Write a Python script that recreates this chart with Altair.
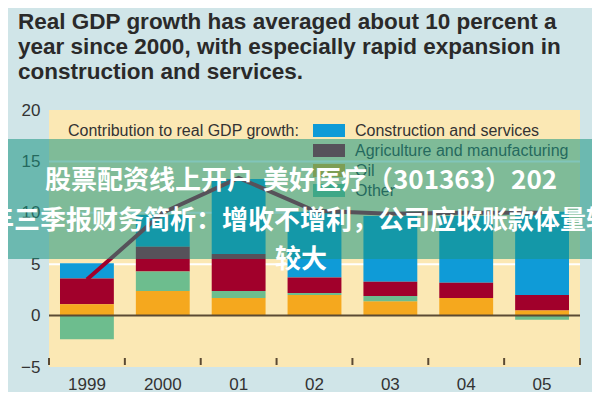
import altair as alt
import pandas as pd

# ---- data ----
years = ["1999", "2000", "01", "02", "03", "04", "05"]
series_names = ["Construction and services", "Agriculture and manufacturing", "Oil", "Other"]
series_colors = ["#0f9bd7", "#a1002b", "#f5a81e", "#6dbd8e"]
stack_rank = [3, 2, 0, 1]
construction = [1.5, 3.1, 7.3, 6.4, 6.4, 6.5, 8.1]
agri_manuf = [2.5, 2.4, 3.6, 1.5, 1.4, 1.5, 1.5]
oil = [1.1, 2.4, 1.7, 2.0, 1.4, 1.7, 0.5]
other = [-2.3, 1.9, 0.7, 0.2, 0.5, 0.0, -0.4]
gdp_growth = [3.5, 10.0, 13.4, 10.2, 9.9, 10.0, 10.0]
y_ticks = [-5, 0, 5, 10, 15, 20]
grid_values = [5, 10, 15]
title_lines = [
    "Real GDP growth has averaged about 10 percent a",
    "year since 2000, with especially rapid expansion in",
    "construction and services.",
]
legend_title = "Contribution to real GDP growth:"
banner_1a = "股票配资线上开户"
banner_1b = "美好医疗（301363）202"
banner_2 = "年三季报财务简析：增收不增利，公司应收账款体量较"
banner_3 = "较大"

series_values = [construction, agri_manuf, oil, other]
rows = []
for name, vals, rank in zip(series_names, series_values, stack_rank):
    for yr, v in zip(years, vals):
        rows.append({"year": yr, "series": name, "value": v, "rank": rank})
bars_df = pd.DataFrame(rows)
line_df = pd.DataFrame({"year": years, "growth": gdp_growth})
year_df = pd.DataFrame({"year": years})
last_df = pd.DataFrame({"year": years[-1:]})
grid_df = pd.DataFrame({"v": grid_values})
zero_df = pd.DataFrame({"v": [0]})
legend_df = pd.DataFrame({"name": series_names, "idx": list(range(len(series_names)))})
one = pd.DataFrame({"k": [0]})

FONT = "Liberation Sans"
CJK = "Noto Sans CJK SC"
BROWN = "#5b4a33"

xscale = alt.Scale(domain=years, paddingInner=0, paddingOuter=0)
yscale = alt.Scale(domain=[-5, 20], nice=False, zero=False)

grid = alt.Chart(grid_df).mark_rule(color="white", strokeWidth=2).encode(
    y=alt.Y("v:Q", scale=yscale, axis=alt.Axis(values=y_ticks, title=None, grid=False,
                                                ticks=False, domain=False, labelPadding=9,
                                                labelFontSize=17, labelColor="#333333",
                                                labelFont=FONT))
)

bars = alt.Chart(bars_df).mark_bar(width=alt.RelativeBandSize(0.71), strokeWidth=0).encode(
    x=alt.X("year:N", sort=years, scale=xscale,
            axis=alt.Axis(title=None, ticks=False, domain=False, labelAngle=0, labelPadding=9,
                          labelFontSize=17, labelColor="#333333", labelFont=FONT)),
    y=alt.Y("value:Q", stack="zero", scale=yscale),
    color=alt.Color("series:N", scale=alt.Scale(domain=series_names, range=series_colors), legend=None),
    order=alt.Order("rank:Q", sort="ascending"),
)

zero = alt.Chart(zero_df).mark_rule(color=BROWN, strokeWidth=2).encode(y=alt.Y("v:Q", scale=yscale))

ticks = alt.Chart(year_df).mark_rule(color=BROWN, strokeWidth=2).encode(
    x=alt.X("year:N", sort=years, scale=xscale, bandPosition=0),
    y=alt.value(248), y2=alt.value(255),
)
ticks_end = alt.Chart(last_df).mark_rule(color=BROWN, strokeWidth=2).encode(
    x=alt.X("year:N", sort=years, scale=xscale, bandPosition=1),
    y=alt.value(248), y2=alt.value(255),
)

line = alt.Chart(line_df).mark_line(color="#a1002b", strokeWidth=4).encode(
    x=alt.X("year:N", sort=years, scale=xscale),
    y=alt.Y("growth:Q", scale=yscale),
)

leg_title = alt.Chart(one).mark_text(align="left", baseline="middle", fontSize=16, font=FONT,
                                     color="#333333", text=legend_title).encode(
    x=alt.value(19), y=alt.value(21))
leg_rect = alt.Chart(legend_df).transform_calculate(
    ly="14 + 20 * datum.idx", ly2="27 + 20 * datum.idx"
).mark_rect().encode(
    x=alt.value(264), x2=alt.value(296),
    y=alt.Y("ly:Q", scale=None, axis=None), y2="ly2:Q",
    color=alt.Color("name:N", scale=alt.Scale(domain=series_names, range=series_colors), legend=None),
)
leg_text = alt.Chart(legend_df).transform_calculate(
    ly="21 + 20 * datum.idx"
).mark_text(align="left", baseline="middle", fontSize=16, font=FONT, color="#333333").encode(
    x=alt.value(306), y=alt.Y("ly:Q", scale=None, axis=None), text="name:N",
)

overlay = alt.Chart(one).mark_rect(color="#199682", opacity=0.55).encode(
    x=alt.value(-49), x2=alt.value(551), y=alt.value(29), y2=alt.value(149))

def banner(txt, x, y, align):
    return alt.Chart(one).mark_text(align=align, baseline="middle", fontSize=26, font=CJK,
                                    fontWeight="bold", color="white", text=txt).encode(
        x=alt.value(x), y=alt.value(y))

b1a = banner(banner_1a, -4, 71, "left")
b1b = banner(banner_1b, 214, 71, "left")
b2 = banner(banner_2, 251, 111, "center")
b3 = banner(banner_3, 252, 150, "center")

chart = alt.layer(
    grid, bars, zero, ticks, ticks_end, line, leg_title, leg_rect, leg_text,
    overlay, b1a, b1b, b2, b3,
).resolve_scale(color="independent").properties(
    width=531, height=257,
    title=alt.Title(title_lines, anchor="start", orient="top", frame="group", dx=-31, offset=18,
                    fontSize=22.5, font=FONT, fontWeight="bold", color="#2a2a2a", lineHeight=25),
    autosize=alt.AutoSizeParams(type="none"),
    padding={"left": 41, "top": 102, "right": 12, "bottom": 25},
).configure(background="#d0e5e8").configure_view(fill="#fbe8b4", strokeWidth=0)

chart.save("out.html", embed_options={"renderer": "svg", "actions": False})
